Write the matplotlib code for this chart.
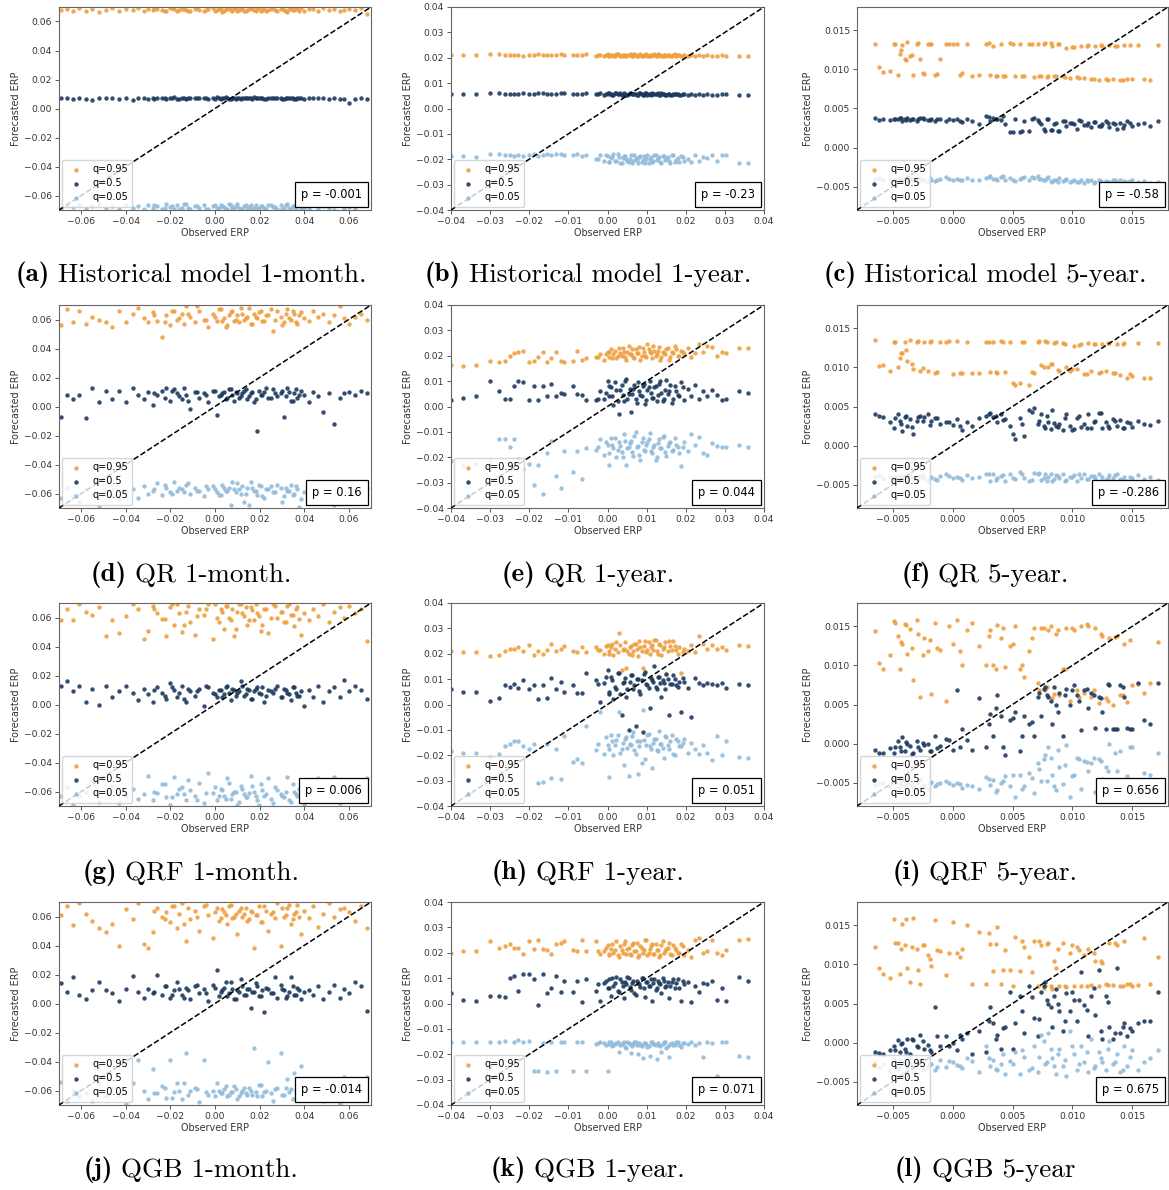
import numpy as np
import matplotlib
matplotlib.use("Agg")
import matplotlib.pyplot as plt
from matplotlib.ticker import MultipleLocator
from matplotlib.offsetbox import AnchoredText

# observed ERP, shared by every model of the same horizon
obs_1m = [-0.0690, -0.0665, -0.0635, -0.0610, -0.0580, -0.0550, -0.0520, -0.0490,
          -0.0460, -0.0430, -0.0400, -0.0370, -0.0345, -0.0320, -0.0300, -0.0280,
          -0.0260, -0.0240, -0.0220, -0.0200, -0.0185, -0.0170, -0.0150, -0.0130,
          -0.0110, -0.0090, -0.0070, -0.0050, -0.0030, -0.0010, 0.0010, 0.0025,
          0.0040, 0.0055, 0.0070, 0.0085, 0.0100, 0.0115, 0.0130, 0.0145,
          0.0160, 0.0175, 0.0190, 0.0205, 0.0220, 0.0240, 0.0260, 0.0280,
          0.0295, 0.0310, 0.0325, 0.0340, 0.0355, 0.0370, 0.0385, 0.0400,
          0.0420, 0.0440, 0.0460, 0.0485, 0.0510, 0.0535, 0.0560, 0.0580,
          0.0600, 0.0630, 0.0655, 0.0680,
          -0.0275, -0.0225, -0.0195, -0.0160, -0.0140, -0.0120, -0.0080, -0.0040,
          0.0000, 0.0018, 0.0032, 0.0048, 0.0062, 0.0078, 0.0092, 0.0108,
          0.0122, 0.0138, 0.0152, 0.0168, 0.0182, 0.0198, 0.0212, 0.0230,
          0.0250, 0.0270, 0.0302, 0.0318, 0.0332, 0.0348, 0.0362, 0.0378]

obs_1y = [-0.0400, -0.0370, -0.0335, -0.0300, -0.0278, -0.0262, -0.0250, -0.0240,
          -0.0228, -0.0215, -0.0200, -0.0188, -0.0178, -0.0165, -0.0155, -0.0145,
          -0.0132, -0.0120, -0.0110, -0.0088, -0.0078, -0.0065, -0.0055, -0.0030,
          -0.0020, -0.0010, 0.0000, 0.0005, 0.0010, 0.0015, 0.0022, 0.0030,
          0.0036, 0.0042, 0.0048, 0.0054, 0.0060, 0.0066, 0.0072, 0.0078,
          0.0084, 0.0090, 0.0096, 0.0102, 0.0108, 0.0114, 0.0120, 0.0126,
          0.0132, 0.0138, 0.0144, 0.0150, 0.0157, 0.0164, 0.0172, 0.0180,
          0.0188, 0.0196, 0.0205, 0.0214, 0.0224, 0.0234, 0.0243, 0.0255,
          0.0268, 0.0280, 0.0292, 0.0303, 0.0335, 0.0358,
          -0.0025, -0.0005, 0.0003, 0.0012, 0.0019, 0.0026, 0.0033, 0.0039,
          0.0045, 0.0051, 0.0057, 0.0063, 0.0069, 0.0075, 0.0081, 0.0087,
          0.0093, 0.0099, 0.0105, 0.0111, 0.0117, 0.0123, 0.0129, 0.0135,
          0.0141, 0.0147, 0.0154, 0.0161, 0.0168, 0.0176, 0.0184, 0.0192]

obs_5y = [-0.0065, -0.0062, -0.0058, -0.0052, -0.0049, -0.0046, -0.0044, -0.0042,
          -0.0040, -0.0038, -0.0036, -0.0033, -0.0030, -0.0027, -0.0024, -0.0021,
          -0.0018, -0.0015, -0.0011, -0.0006, 0.0000, 0.0004, 0.0008, 0.0012,
          0.0016, 0.0022, 0.0028, 0.0031, 0.0034, 0.0037, 0.0040, 0.0044,
          0.0048, 0.0052, 0.0056, 0.0060, 0.0064, 0.0068, 0.0071, 0.0074,
          0.0077, 0.0080, 0.0083, 0.0086, 0.0089, 0.0092, 0.0095, 0.0098,
          0.0101, 0.0104, 0.0107, 0.0110, 0.0113, 0.0116, 0.0119, 0.0122,
          0.0125, 0.0128, 0.0131, 0.0134, 0.0137, 0.0140, 0.0143, 0.0146,
          0.0150, 0.0155, 0.0160, 0.0165, 0.0172,
          -0.0048, -0.0043, -0.0039, -0.0034, -0.0029, -0.0025, -0.0019, -0.0013,
          -0.0003, 0.0006, 0.0030, 0.0036, 0.0042, 0.0050, 0.0058, 0.0066,
          0.0072, 0.0076, 0.0079, 0.0082, 0.0085, 0.0088, 0.0094, 0.0100,
          0.0106, 0.0112, 0.0118, 0.0124, 0.0130, 0.0136, 0.0142, 0.0148]

# ---------------- 1-month forecasts ----------------
hist_1m_q95 = [0.0680, 0.0685, 0.0670, 0.0690, 0.0675, 0.0688, 0.0668, 0.0682,
               0.0690, 0.0672, 0.0685, 0.0678, 0.0692, 0.0670, 0.0684, 0.0676,
               0.0688, 0.0680, 0.0669, 0.0691, 0.0683, 0.0674, 0.0687, 0.0679,
               0.0670, 0.0689, 0.0681, 0.0673, 0.0686, 0.0692, 0.0677, 0.0684,
               0.0671, 0.0688, 0.0680, 0.0693, 0.0675, 0.0685, 0.0670, 0.0682,
               0.0690, 0.0676, 0.0684, 0.0669, 0.0687, 0.0679, 0.0691, 0.0673,
               0.0686, 0.0680, 0.0668, 0.0689, 0.0677, 0.0684, 0.0692, 0.0671,
               0.0683, 0.0688, 0.0674, 0.0690, 0.0679, 0.0686, 0.0669, 0.0681,
               0.0688, 0.0676, 0.0690, 0.0650,
               0.0684, 0.0672, 0.0690, 0.0678, 0.0686, 0.0670, 0.0692, 0.0681,
               0.0675, 0.0689, 0.0668, 0.0684, 0.0691, 0.0673, 0.0686, 0.0679,
               0.0690, 0.0670, 0.0683, 0.0688, 0.0674, 0.0692, 0.0680, 0.0669,
               0.0687, 0.0677, 0.0691, 0.0672, 0.0685, 0.0679, 0.0690, 0.0675]
hist_1m_q50 = [0.0075, 0.0070, 0.0065, 0.0072, 0.0068, 0.0060, 0.0074, 0.0069,
               0.0071, 0.0066, 0.0073, 0.0058, 0.0070, 0.0075, 0.0067, 0.0072,
               0.0069, 0.0074, 0.0064, 0.0071, 0.0076, 0.0068, 0.0073, 0.0066,
               0.0070, 0.0075, 0.0069, 0.0072, 0.0065, 0.0071, 0.0077, 0.0068,
               0.0073, 0.0070, 0.0066, 0.0074, 0.0071, 0.0068, 0.0075, 0.0072,
               0.0069, 0.0076, 0.0070, 0.0073, 0.0067, 0.0072, 0.0075, 0.0069,
               0.0071, 0.0066, 0.0074, 0.0070, 0.0068, 0.0073, 0.0071, 0.0067,
               0.0072, 0.0069, 0.0070, 0.0074, 0.0066, 0.0071, 0.0068, 0.0065,
               0.0040, 0.0068, 0.0075, 0.0066,
               0.0068, 0.0073, 0.0070, 0.0066, 0.0074, 0.0071, 0.0069, 0.0075,
               0.0067, 0.0072, 0.0070, 0.0076, 0.0068, 0.0073, 0.0065, 0.0071,
               0.0074, 0.0069, 0.0072, 0.0067, 0.0075, 0.0070, 0.0073, 0.0066,
               0.0071, 0.0074, 0.0068, 0.0072, 0.0070, 0.0075, 0.0067, 0.0073]
hist_1m_q05 = [-0.0690, -0.0665, -0.0680, -0.0668, -0.0695, -0.0670, -0.0662, -0.0688,
               -0.0675, -0.0692, -0.0666, -0.0683, -0.0670, -0.0695, -0.0664, -0.0686,
               -0.0672, -0.0690, -0.0660, -0.0681, -0.0694, -0.0667, -0.0685, -0.0662,
               -0.0691, -0.0670, -0.0684, -0.0663, -0.0696, -0.0675, -0.0688, -0.0665,
               -0.0680, -0.0693, -0.0668, -0.0686, -0.0661, -0.0690, -0.0674, -0.0695,
               -0.0666, -0.0684, -0.0692, -0.0670, -0.0688, -0.0663, -0.0680, -0.0694,
               -0.0668, -0.0687, -0.0660, -0.0691, -0.0675, -0.0658, -0.0690, -0.0684,
               -0.0695, -0.0668, -0.0690, -0.0672, -0.0693, -0.0698, -0.0665, -0.0690,
               -0.0680, -0.0692, -0.0666, -0.0648,
               -0.0665, -0.0688, -0.0672, -0.0694, -0.0660, -0.0683, -0.0670, -0.0692,
               -0.0666, -0.0686, -0.0675, -0.0696, -0.0662, -0.0689, -0.0671, -0.0684,
               -0.0694, -0.0667, -0.0680, -0.0690, -0.0663, -0.0686, -0.0674, -0.0695,
               -0.0668, -0.0682, -0.0692, -0.0665, -0.0688, -0.0672, -0.0690, -0.0660]

qr_1m_q95 = [0.056, 0.067, 0.058, 0.066, 0.057, 0.062, 0.060, 0.058,
             0.055, 0.066, 0.058, 0.064, 0.068, 0.061, 0.058, 0.065,
             0.059, 0.048, 0.063, 0.056, 0.066, 0.060, 0.064, 0.069,
             0.062, 0.058, 0.066, 0.060, 0.055, 0.064, 0.059, 0.067,
             0.061, 0.056, 0.065, 0.059, 0.063, 0.068, 0.060, 0.062,
             0.057, 0.064, 0.061, 0.066, 0.059, 0.063, 0.052, 0.066,
             0.062, 0.058, 0.067, 0.060, 0.064, 0.057, 0.065, 0.061,
             0.059, 0.066, 0.062, 0.064, 0.058, 0.063, 0.069, 0.061,
             0.057, 0.062, 0.064, 0.060,
             0.063, 0.058, 0.066, 0.061, 0.057, 0.064, 0.069, 0.060,
             0.062, 0.067, 0.059, 0.055, 0.063, 0.066, 0.060, 0.058,
             0.064, 0.061, 0.068, 0.057, 0.062, 0.065, 0.059, 0.063,
             0.067, 0.060, 0.056, 0.064, 0.061, 0.066, 0.058, 0.063]
qr_1m_q50 = [-0.007, 0.008, 0.005, 0.008, -0.008, 0.013, 0.003, 0.011,
             0.005, 0.011, 0.003, 0.013, 0.008, 0.005, 0.010, 0.001,
             0.008, 0.011, 0.013, 0.004, 0.012, 0.009, 0.005, 0.008,
             -0.002, 0.010, 0.006, 0.009, 0.003, 0.011, -0.006, 0.008,
             0.010, 0.006, 0.012, 0.004, 0.009, 0.007, 0.011, 0.005,
             0.009, 0.003, -0.017, 0.008, 0.010, 0.006, 0.012, 0.007,
             0.009, -0.007, 0.013, 0.004, 0.009, 0.006, 0.011, 0.008,
             0.003, 0.010, 0.007, -0.004, 0.009, -0.012, 0.006, 0.009,
             0.010, 0.008, 0.011, 0.009,
             0.009, 0.006, 0.011, 0.007, 0.013, 0.004, 0.010, 0.008,
             0.011, 0.007, 0.009, 0.005, 0.012, 0.008, 0.010, 0.006,
             0.009, 0.012, 0.007, 0.010, 0.005, 0.011, 0.008, 0.013,
             0.006, 0.009, 0.011, 0.007, 0.010, 0.004, 0.012, 0.008]
qr_1m_q05 = [-0.063, -0.056, -0.062, -0.066, -0.057, -0.061, -0.069, -0.058,
             -0.062, -0.064, -0.059, -0.057, -0.063, -0.055, -0.060, -0.058,
             -0.053, -0.061, -0.056, -0.059, -0.052, -0.058, -0.057, -0.054,
             -0.060, -0.056, -0.058, -0.062, -0.057, -0.055, -0.059, -0.061,
             -0.056, -0.058, -0.068, -0.057, -0.053, -0.060, -0.066, -0.056,
             -0.052, -0.058, -0.061, -0.055, -0.063, -0.057, -0.059, -0.054,
             -0.056, -0.062, -0.058, -0.054, -0.060, -0.057, -0.064, -0.059,
             -0.066, -0.056, -0.061, -0.052, -0.058, -0.068, -0.062, -0.057,
             -0.060, -0.066, -0.058, -0.056,
             -0.057, -0.054, -0.060, -0.056, -0.059, -0.053, -0.058, -0.055,
             -0.057, -0.061, -0.054, -0.058, -0.056, -0.052, -0.059, -0.057,
             -0.055, -0.060, -0.068, -0.056, -0.058, -0.054, -0.062, -0.057,
             -0.055, -0.059, -0.066, -0.056, -0.058, -0.061, -0.055, -0.069]

qrf_1m_q95 = [0.058, 0.066, 0.058, 0.069, 0.064, 0.062, 0.067, 0.047,
              0.058, 0.049, 0.061, 0.069, 0.066, 0.045, 0.051, 0.068,
              0.063, 0.059, 0.047, 0.067, 0.055, 0.069, 0.050, 0.064,
              0.057, 0.048, 0.066, 0.062, 0.069, 0.045, 0.060, 0.066,
              0.052, 0.068, 0.058, 0.047, 0.064, 0.069, 0.061, 0.055,
              0.067, 0.058, 0.063, 0.051, 0.066, 0.049, 0.069, 0.060,
              0.064, 0.057, 0.068, 0.062, 0.054, 0.067, 0.048, 0.063,
              0.058, 0.066, 0.061, 0.069, 0.057, 0.064, 0.067, 0.060,
              0.068, 0.063, 0.066, 0.044,
              0.066, 0.059, 0.069, 0.063, 0.055, 0.068, 0.061, 0.066,
              0.069, 0.057, 0.064, 0.068, 0.060, 0.066, 0.052, 0.069,
              0.063, 0.067, 0.058, 0.065, 0.069, 0.061, 0.055, 0.066,
              0.060, 0.068, 0.064, 0.057, 0.069, 0.062, 0.066, 0.059]
qrf_1m_q50 = [0.013, 0.016, 0.009, 0.013, 0.002, 0.011, 0.000, 0.013,
              0.005, 0.009, 0.013, 0.008, 0.003, 0.011, 0.007, 0.002,
              0.012, 0.008, 0.004, 0.015, 0.010, 0.005, 0.013, 0.002,
              0.009, 0.006, 0.011, -0.001, 0.012, 0.008, 0.005, 0.010,
              0.007, 0.013, 0.003, 0.010, 0.008, 0.016, 0.006, 0.011,
              0.004, 0.009, 0.012, 0.007, 0.002, 0.010, 0.008, 0.013,
              0.005, 0.011, 0.008, 0.003, 0.012, 0.006, 0.009, -0.001,
              0.010, 0.005, 0.013, 0.002, 0.009, 0.012, 0.005, 0.017,
              0.009, 0.013, 0.010, 0.004,
              0.010, 0.006, 0.012, 0.008, 0.004, 0.011, 0.009, 0.013,
              0.007, 0.010, 0.005, 0.012, 0.008, 0.011, 0.006, 0.009,
              0.013, 0.007, 0.010, 0.004, 0.011, 0.008, 0.012, 0.006,
              0.009, 0.011, 0.005, 0.010, 0.007, 0.012, 0.008, 0.006]
qrf_1m_q05 = [-0.063, -0.057, -0.069, -0.063, -0.060, -0.052, -0.067, -0.061,
              -0.056, -0.068, -0.063, -0.058, -0.065, -0.062, -0.049, -0.066,
              -0.061, -0.055, -0.064, -0.069, -0.050, -0.062, -0.057, -0.066,
              -0.059, -0.063, -0.054, -0.068, -0.047, -0.061, -0.066, -0.058,
              -0.063, -0.051, -0.065, -0.060, -0.069, -0.056, -0.062, -0.064,
              -0.049, -0.060, -0.066, -0.055, -0.063, -0.051, -0.068, -0.059,
              -0.062, -0.064, -0.050, -0.067, -0.060, -0.063, -0.055, -0.069,
              -0.057, -0.062, -0.051, -0.066, -0.058, -0.050, -0.068, -0.061,
              -0.055, -0.065, -0.060, -0.051,
              -0.060, -0.055, -0.064, -0.058, -0.062, -0.052, -0.066, -0.061,
              -0.057, -0.063, -0.059, -0.065, -0.054, -0.062, -0.060, -0.067,
              -0.058, -0.064, -0.061, -0.056, -0.063, -0.069, -0.059, -0.062,
              -0.065, -0.057, -0.063, -0.060, -0.066, -0.055, -0.062, -0.058]

qgb_1m_q95 = [0.061, 0.067, 0.054, 0.069, 0.062, 0.057, 0.052, 0.049,
              0.055, 0.040, 0.065, 0.058, 0.069, 0.041, 0.038, 0.049,
              0.066, 0.060, 0.063, 0.056, 0.067, 0.052, 0.069, 0.043,
              0.058, 0.064, 0.050, 0.067, 0.061, 0.045, 0.066, 0.059,
              0.063, 0.055, 0.068, 0.060, 0.048, 0.066, 0.062, 0.057,
              0.064, 0.038, 0.061, 0.056, 0.067, 0.050, 0.063, 0.069,
              0.040, 0.060, 0.066, 0.055, 0.062, 0.068, 0.048, 0.064,
              0.059, 0.067, 0.053, 0.062, 0.069, 0.060, 0.065, 0.066,
              0.063, 0.057, 0.067, 0.052,
              0.064, 0.058, 0.067, 0.062, 0.055, 0.066, 0.060, 0.068,
              0.063, 0.057, 0.065, 0.061, 0.067, 0.059, 0.062, 0.064,
              0.060, 0.066, 0.058, 0.063, 0.061, 0.067, 0.056, 0.064,
              0.062, 0.059, 0.066, 0.061, 0.068, 0.058, 0.063, 0.060]
qgb_1m_q50 = [0.014, 0.008, 0.018, 0.006, 0.003, 0.009, 0.015, 0.009,
              0.007, 0.002, 0.010, 0.019, 0.008, 0.004, 0.010, 0.007,
              0.020, 0.006, 0.012, 0.004, 0.009, 0.015, 0.006, 0.011,
              0.003, 0.012, 0.007, 0.010, 0.002, 0.013, 0.023, 0.008,
              0.011, 0.005, 0.015, 0.003, 0.009, 0.017, 0.006, 0.010,
              -0.003, 0.008, 0.012, 0.005, -0.006, 0.010, 0.007, 0.004,
              0.013, 0.009, 0.005, 0.018, 0.006, 0.011, 0.003, 0.008,
              0.009, 0.006, 0.012, 0.003, 0.008, 0.013, 0.004, 0.010,
              0.007, 0.015, 0.012, -0.005,
              0.008, 0.012, 0.006, 0.010, 0.004, 0.009, 0.013, 0.007,
              0.011, 0.005, 0.009, 0.015, 0.007, 0.010, 0.003, 0.008,
              0.012, 0.006, 0.010, 0.008, 0.014, 0.005, 0.009, 0.011,
              0.007, 0.018, 0.010, 0.004, 0.008, 0.012, 0.006, 0.009]
qgb_1m_q05 = [-0.054, -0.067, -0.060, -0.064, -0.062, -0.067, -0.055, -0.064,
              -0.058, -0.063, -0.069, -0.055, -0.039, -0.060, -0.066, -0.045,
              -0.062, -0.057, -0.065, -0.039, -0.061, -0.055, -0.066, -0.034,
              -0.060, -0.058, -0.068, -0.039, -0.063, -0.060, -0.055, -0.062,
              -0.059, -0.064, -0.061, -0.057, -0.066, -0.062, -0.058, -0.063,
              -0.060, -0.031, -0.064, -0.056, -0.061, -0.040, -0.067, -0.058,
              -0.034, -0.063, -0.052, -0.059, -0.048, -0.062, -0.043, -0.066,
              -0.058, -0.063, -0.060, -0.067, -0.055, -0.062, -0.069, -0.051,
              -0.066, -0.061, -0.058, -0.051,
              -0.062, -0.058, -0.065, -0.060, -0.055, -0.063, -0.059, -0.061,
              -0.064, -0.060, -0.062, -0.057, -0.063, -0.061, -0.059, -0.064,
              -0.060, -0.062, -0.058, -0.063, -0.061, -0.056, -0.064, -0.060,
              -0.062, -0.059, -0.063, -0.058, -0.061, -0.066, -0.060, -0.063]

# ---------------- 1-year forecasts ----------------
hist_1y_q95 = [0.0210, 0.0210, 0.0210, 0.0213, 0.0213, 0.0210, 0.0212, 0.0209,
               0.0210, 0.0208, 0.0212, 0.0211, 0.0213, 0.0210, 0.0212, 0.0209,
               0.0211, 0.0213, 0.0210, 0.0209, 0.0211, 0.0212, 0.0213, 0.0207,
               0.0212, 0.0205, 0.0213, 0.0208, 0.0211, 0.0206, 0.0214, 0.0209,
               0.0207, 0.0212, 0.0205, 0.0210, 0.0214, 0.0207, 0.0211, 0.0205,
               0.0213, 0.0208, 0.0210, 0.0206, 0.0212, 0.0209, 0.0214, 0.0207,
               0.0210, 0.0205, 0.0212, 0.0208, 0.0211, 0.0206, 0.0213, 0.0209,
               0.0207, 0.0211, 0.0205, 0.0210, 0.0208, 0.0212, 0.0206, 0.0210,
               0.0207, 0.0205, 0.0209, 0.0206, 0.0205, 0.0206,
               0.0210, 0.0212, 0.0207, 0.0211, 0.0205, 0.0213, 0.0208, 0.0210,
               0.0206, 0.0212, 0.0209, 0.0205, 0.0213, 0.0207, 0.0211, 0.0206,
               0.0210, 0.0214, 0.0208, 0.0205, 0.0211, 0.0207, 0.0213, 0.0209,
               0.0206, 0.0210, 0.0212, 0.0207, 0.0211, 0.0205, 0.0209, 0.0208]
hist_1y_q50 = [0.0058, 0.0058, 0.0058, 0.0062, 0.0060, 0.0058, 0.0059, 0.0057,
               0.0058, 0.0061, 0.0059, 0.0058, 0.0060, 0.0062, 0.0059, 0.0057,
               0.0058, 0.0060, 0.0061, 0.0058, 0.0059, 0.0057, 0.0061, 0.0058,
               0.0060, 0.0053, 0.0062, 0.0056, 0.0059, 0.0054, 0.0063, 0.0057,
               0.0055, 0.0061, 0.0054, 0.0059, 0.0062, 0.0056, 0.0058, 0.0053,
               0.0061, 0.0055, 0.0060, 0.0054, 0.0058, 0.0062, 0.0056, 0.0059,
               0.0054, 0.0060, 0.0057, 0.0055, 0.0059, 0.0053, 0.0058, 0.0056,
               0.0054, 0.0058, 0.0055, 0.0057, 0.0053, 0.0056, 0.0055, 0.0057,
               0.0055, 0.0054, 0.0056, 0.0056, 0.0054, 0.0055,
               0.0059, 0.0056, 0.0061, 0.0054, 0.0060, 0.0057, 0.0062, 0.0055,
               0.0059, 0.0053, 0.0061, 0.0056, 0.0058, 0.0054, 0.0060, 0.0057,
               0.0055, 0.0061, 0.0058, 0.0053, 0.0059, 0.0056, 0.0060, 0.0054,
               0.0057, 0.0055, 0.0059, 0.0053, 0.0058, 0.0056, 0.0054, 0.0057]
hist_1y_q05 = [-0.0188, -0.0188, -0.0190, -0.0180, -0.0180, -0.0185, -0.0183, -0.0186,
               -0.0182, -0.0189, -0.0184, -0.0180, -0.0186, -0.0182, -0.0179, -0.0184,
               -0.0181, -0.0178, -0.0182, -0.0185, -0.0180, -0.0186, -0.0183, -0.0198,
               -0.0185, -0.0205, -0.0188, -0.0212, -0.0195, -0.0180, -0.0208, -0.0190,
               -0.0215, -0.0186, -0.0200, -0.0210, -0.0183, -0.0205, -0.0195, -0.0214,
               -0.0188, -0.0202, -0.0216, -0.0185, -0.0198, -0.0210, -0.0182, -0.0204,
               -0.0193, -0.0214, -0.0186, -0.0200, -0.0208, -0.0184, -0.0212, -0.0196,
               -0.0188, -0.0205, -0.0198, -0.0212, -0.0184, -0.0206, -0.0190, -0.0196,
               -0.0183, -0.0205, -0.0185, -0.0182, -0.0215, -0.0215,
               -0.0200, -0.0185, -0.0210, -0.0192, -0.0205, -0.0181, -0.0214, -0.0196,
               -0.0188, -0.0208, -0.0199, -0.0215, -0.0183, -0.0203, -0.0192, -0.0211,
               -0.0186, -0.0200, -0.0214, -0.0190, -0.0206, -0.0183, -0.0197, -0.0212,
               -0.0188, -0.0204, -0.0193, -0.0215, -0.0185, -0.0201, -0.0209, -0.0190]

qr_1y_q95 = [0.0165, 0.0160, 0.0165, 0.0180, 0.0175, 0.0180, 0.0200, 0.0210,
             0.0215, 0.0220, 0.0175, 0.0180, 0.0195, 0.0215, 0.0175, 0.0190,
             0.0215, 0.0180, 0.0175, 0.0180, 0.0220, 0.0185, 0.0190, 0.0195,
             0.0205, 0.0185, 0.0215, 0.0195, 0.0225, 0.0205, 0.0190, 0.0230,
             0.0200, 0.0215, 0.0185, 0.0240, 0.0205, 0.0195, 0.0225, 0.0210,
             0.0185, 0.0230, 0.0200, 0.0245, 0.0215, 0.0190, 0.0220, 0.0205,
             0.0235, 0.0195, 0.0210, 0.0225, 0.0185, 0.0215, 0.0240, 0.0200,
             0.0220, 0.0205, 0.0230, 0.0195, 0.0210, 0.0245, 0.0215, 0.0240,
             0.0235, 0.0200, 0.0215, 0.0210, 0.0230, 0.0232,
             0.0195, 0.0205, 0.0215, 0.0190, 0.0220, 0.0200, 0.0210, 0.0230,
             0.0195, 0.0215, 0.0205, 0.0225, 0.0190, 0.0210, 0.0235, 0.0200,
             0.0215, 0.0195, 0.0225, 0.0210, 0.0240, 0.0200, 0.0220, 0.0185,
             0.0215, 0.0205, 0.0230, 0.0195, 0.0210, 0.0225, 0.0200, 0.0215]
qr_1y_q50 = [0.0025, 0.0035, 0.0040, 0.0100, 0.0060, 0.0030, 0.0030, 0.0080,
             0.0100, 0.0095, 0.0025, 0.0080, 0.0025, 0.0080, 0.0040, 0.0090,
             0.0040, 0.0055, 0.0050, 0.0080, 0.0050, 0.0045, 0.0025, 0.0025,
             0.0060, 0.0030, 0.0100, 0.0040, 0.0075, 0.0005, 0.0065, -0.0030,
             0.0085, 0.0020, 0.0110, 0.0050, -0.0020, 0.0070, 0.0030, 0.0095,
             0.0045, 0.0080, 0.0010, 0.0065, 0.0100, 0.0035, 0.0075, 0.0020,
             0.0090, 0.0055, 0.0030, 0.0105, 0.0060, 0.0015, 0.0080, 0.0045,
             0.0095, 0.0025, 0.0070, 0.0040, 0.0085, 0.0030, 0.0060, 0.0040,
             0.0065, 0.0045, 0.0025, 0.0030, 0.0060, 0.0055,
             0.0030, 0.0055, 0.0080, 0.0040, 0.0095, 0.0020, 0.0065, 0.0045,
             0.0100, 0.0030, 0.0070, 0.0050, 0.0085, 0.0015, 0.0060, 0.0040,
             0.0090, 0.0025, 0.0075, 0.0055, 0.0035, 0.0080, 0.0045, 0.0100,
             0.0020, 0.0065, 0.0050, 0.0085, 0.0030, 0.0060, 0.0040, 0.0075]
qr_1y_q05 = [-0.0215, -0.0235, -0.0225, -0.0215, -0.0130, -0.0130, -0.0160, -0.0130,
             -0.0205, -0.0245, -0.0225, -0.0310, -0.0230, -0.0345, -0.0185, -0.0135,
             -0.0275, -0.0320, -0.0175, -0.0260, -0.0175, -0.0285, -0.0165, -0.0170,
             -0.0130, -0.0190, -0.0150, -0.0230, -0.0125, -0.0165, -0.0200, -0.0140,
             -0.0180, -0.0110, -0.0230, -0.0160, -0.0135, -0.0195, -0.0100, -0.0155,
             -0.0210, -0.0125, -0.0175, -0.0140, -0.0105, -0.0185, -0.0150, -0.0200,
             -0.0130, -0.0165, -0.0115, -0.0195, -0.0145, -0.0175, -0.0125, -0.0160,
             -0.0235, -0.0140, -0.0175, -0.0110, -0.0150, -0.0120, -0.0185, -0.0190,
             -0.0145, -0.0155, -0.0160, -0.0160, -0.0150, -0.0160,
             -0.0160, -0.0140, -0.0185, -0.0150, -0.0125, -0.0170, -0.0155, -0.0200,
             -0.0135, -0.0165, -0.0145, -0.0180, -0.0115, -0.0160, -0.0190, -0.0140,
             -0.0170, -0.0150, -0.0130, -0.0175, -0.0160, -0.0210, -0.0145, -0.0165,
             -0.0120, -0.0180, -0.0155, -0.0140, -0.0170, -0.0150, -0.0185, -0.0160]

qrf_1y_q95 = [0.0210, 0.0205, 0.0205, 0.0190, 0.0195, 0.0210, 0.0220, 0.0220,
              0.0225, 0.0210, 0.0235, 0.0195, 0.0210, 0.0200, 0.0215, 0.0240,
              0.0210, 0.0220, 0.0230, 0.0210, 0.0205, 0.0225, 0.0205, 0.0225,
              0.0215, 0.0200, 0.0235, 0.0210, 0.0225, 0.0195, 0.0245, 0.0280,
              0.0135, 0.0220, 0.0145, 0.0200, 0.0230, 0.0210, 0.0240, 0.0190,
              0.0225, 0.0145, 0.0250, 0.0215, 0.0200, 0.0235, 0.0255, 0.0210,
              0.0240, 0.0195, 0.0225, 0.0120, 0.0250, 0.0215, 0.0230, 0.0200,
              0.0125, 0.0220, 0.0210, 0.0235, 0.0205, 0.0270, 0.0240, 0.0220,
              0.0235, 0.0220, 0.0225, 0.0215, 0.0235, 0.0230,
              0.0215, 0.0230, 0.0200, 0.0240, 0.0220, 0.0205, 0.0235, 0.0215,
              0.0245, 0.0210, 0.0225, 0.0195, 0.0240, 0.0220, 0.0250, 0.0210,
              0.0230, 0.0205, 0.0245, 0.0225, 0.0215, 0.0255, 0.0200, 0.0235,
              0.0220, 0.0245, 0.0210, 0.0230, 0.0250, 0.0215, 0.0225, 0.0205]
qrf_1y_q50 = [0.0060, 0.0050, 0.0050, 0.0015, 0.0025, 0.0075, 0.0070, 0.0080,
              0.0065, 0.0095, 0.0060, 0.0075, 0.0020, 0.0075, 0.0025, 0.0105,
              0.0060, 0.0090, 0.0050, 0.0075, 0.0045, 0.0045, 0.0125, 0.0095,
              0.0010, 0.0085, 0.0135, 0.0040, 0.0110, 0.0020, 0.0060, 0.0125,
              -0.0040, 0.0090, 0.0030, -0.0100, 0.0115, 0.0060, -0.0085, 0.0100,
              0.0040, -0.0110, 0.0130, 0.0075, -0.0015, 0.0095, 0.0150, 0.0060,
              0.0110, 0.0030, 0.0085, 0.0120, -0.0040, 0.0080, 0.0100, 0.0070,
              -0.0030, 0.0090, 0.0065, -0.0050, 0.0105, 0.0085, 0.0075, 0.0085,
              0.0080, 0.0075, 0.0085, 0.0065, 0.0080, 0.0075,
              0.0080, 0.0110, 0.0050, 0.0095, 0.0070, 0.0125, 0.0040, 0.0085,
              0.0105, 0.0060, 0.0090, 0.0115, 0.0075, 0.0100, 0.0055, 0.0095,
              0.0120, 0.0080, 0.0065, 0.0105, 0.0090, 0.0070, 0.0110, 0.0085,
              0.0095, 0.0060, 0.0100, 0.0080, 0.0115, 0.0075, 0.0090, 0.0105]
qrf_1y_q05 = [-0.0185, -0.0190, -0.0190, -0.0205, -0.0195, -0.0165, -0.0155, -0.0145,
              -0.0145, -0.0165, -0.0175, -0.0155, -0.0310, -0.0305, -0.0155, -0.0290,
              -0.0175, -0.0295, -0.0125, -0.0225, -0.0215, -0.0230, -0.0085, -0.0180,
              -0.0030, -0.0195, -0.0160, -0.0285, -0.0120, -0.0200, -0.0140, -0.0030,
              -0.0175, -0.0240, -0.0130, -0.0280, -0.0160, -0.0110, -0.0195, -0.0275,
              -0.0145, -0.0020, -0.0215, -0.0120, -0.0165, -0.0250, -0.0135, -0.0180,
              -0.0105, -0.0155, -0.0210, -0.0130, -0.0175, -0.0120, -0.0200, -0.0145,
              -0.0165, -0.0135, -0.0190, -0.0150, -0.0175, -0.0195, -0.0160, -0.0190,
              -0.0220, -0.0125, -0.0200, -0.0145, -0.0205, -0.0210,
              -0.0155, -0.0130, -0.0175, -0.0145, -0.0160, -0.0120, -0.0190, -0.0150,
              -0.0135, -0.0170, -0.0155, -0.0125, -0.0180, -0.0145, -0.0165, -0.0230,
              -0.0140, -0.0160, -0.0115, -0.0175, -0.0150, -0.0135, -0.0185, -0.0155,
              -0.0170, -0.0125, -0.0160, -0.0145, -0.0195, -0.0135, -0.0165, -0.0150]

qgb_1y_q95 = [0.0200, 0.0205, 0.0205, 0.0245, 0.0220, 0.0225, 0.0235, 0.0220,
              0.0220, 0.0195, 0.0245, 0.0215, 0.0250, 0.0215, 0.0210, 0.0195,
              0.0235, 0.0240, 0.0245, 0.0210, 0.0205, 0.0250, 0.0205, 0.0245,
              0.0195, 0.0205, 0.0230, 0.0190, 0.0215, 0.0200, 0.0245, 0.0185,
              0.0210, 0.0235, 0.0195, 0.0220, 0.0190, 0.0240, 0.0205, 0.0185,
              0.0225, 0.0200, 0.0250, 0.0190, 0.0215, 0.0235, 0.0195, 0.0210,
              0.0185, 0.0230, 0.0200, 0.0215, 0.0240, 0.0190, 0.0220, 0.0200,
              0.0235, 0.0190, 0.0210, 0.0185, 0.0250, 0.0260, 0.0200, 0.0205,
              0.0250, 0.0200, 0.0190, 0.0210, 0.0250, 0.0255,
              0.0205, 0.0220, 0.0195, 0.0235, 0.0210, 0.0190, 0.0225, 0.0200,
              0.0245, 0.0215, 0.0195, 0.0230, 0.0205, 0.0240, 0.0190, 0.0220,
              0.0210, 0.0250, 0.0200, 0.0225, 0.0195, 0.0235, 0.0210, 0.0190,
              0.0245, 0.0205, 0.0220, 0.0195, 0.0230, 0.0210, 0.0200, 0.0225]
qgb_1y_q50 = [0.0040, 0.0015, 0.0010, 0.0030, 0.0030, 0.0025, 0.0100, 0.0110,
              0.0050, 0.0115, 0.0115, 0.0095, -0.0005, 0.0115, 0.0040, 0.0060,
              0.0110, 0.0045, 0.0090, 0.0045, 0.0090, 0.0005, 0.0095, 0.0050,
              0.0010, 0.0080, 0.0060, 0.0095, 0.0030, 0.0070, 0.0105, 0.0045,
              0.0085, 0.0020, 0.0075, 0.0100, 0.0055, 0.0090, 0.0035, 0.0080,
              0.0065, 0.0100, 0.0025, 0.0085, 0.0070, 0.0010, 0.0095, 0.0060,
              0.0080, 0.0040, 0.0090, 0.0070, 0.0020, 0.0085, 0.0060, 0.0095,
              0.0010, 0.0075, 0.0085, 0.0005, 0.0070, 0.0045, 0.0080, 0.0075,
              0.0090, 0.0015, 0.0060, 0.0010, 0.0105, 0.0090,
              0.0075, 0.0090, 0.0060, 0.0100, 0.0080, 0.0050, 0.0095, 0.0070,
              0.0085, 0.0105, 0.0065, 0.0080, 0.0040, 0.0090, 0.0075, 0.0100,
              0.0060, 0.0085, 0.0070, 0.0095, 0.0080, 0.0055, 0.0090, 0.0075,
              0.0100, 0.0065, 0.0085, 0.0070, 0.0095, 0.0080, 0.0060, 0.0090]
qgb_1y_q05 = [-0.0150, -0.0150, -0.0150, -0.0150, -0.0153, -0.0148, -0.0265, -0.0150,
              -0.0145, -0.0150, -0.0148, -0.0265, -0.0265, -0.0155, -0.0270, -0.0150,
              -0.0265, -0.0150, -0.0150, -0.0265, -0.0150, -0.0150, -0.0265, -0.0160,
              -0.0150, -0.0155, -0.0265, -0.0160, -0.0150, -0.0165, -0.0155, -0.0190,
              -0.0160, -0.0150, -0.0175, -0.0155, -0.0195, -0.0160, -0.0150, -0.0200,
              -0.0165, -0.0215, -0.0155, -0.0170, -0.0205, -0.0150, -0.0160, -0.0220,
              -0.0165, -0.0190, -0.0150, -0.0175, -0.0210, -0.0155, -0.0165, -0.0150,
              -0.0170, -0.0155, -0.0160, -0.0150, -0.0165, -0.0155, -0.0210, -0.0150,
              -0.0155, -0.0285, -0.0150, -0.0150, -0.0205, -0.0210,
              -0.0155, -0.0162, -0.0150, -0.0168, -0.0158, -0.0152, -0.0165, -0.0157,
              -0.0170, -0.0153, -0.0160, -0.0166, -0.0151, -0.0163, -0.0157, -0.0169,
              -0.0154, -0.0161, -0.0167, -0.0152, -0.0159, -0.0164, -0.0155, -0.0168,
              -0.0160, -0.0153, -0.0166, -0.0158, -0.0162, -0.0151, -0.0165, -0.0156]

# ---------------- 5-year forecasts ----------------
hist_5y_q95 = [0.0133, 0.0103, 0.0097, 0.0098, 0.0133, 0.0093, 0.0120, 0.0131,
               0.0113, 0.0135, 0.0117, 0.0093, 0.0133, 0.0113, 0.0094, 0.0132,
               0.0133, 0.0093, 0.0113, 0.0133, 0.0133, 0.0132, 0.0095, 0.0133,
               0.0092, 0.0093, 0.0133, 0.0093, 0.0130, 0.0091, 0.0133, 0.0092,
               0.0134, 0.0091, 0.0133, 0.0091, 0.0133, 0.0090, 0.0133, 0.0091,
               0.0134, 0.0091, 0.0130, 0.0091, 0.0133, 0.0091, 0.0128, 0.0089,
               0.0129, 0.0090, 0.0130, 0.0089, 0.0131, 0.0088, 0.0130, 0.0086,
               0.0130, 0.0088, 0.0131, 0.0088, 0.0130, 0.0087, 0.0131, 0.0088,
               0.0088, 0.0131, 0.0088, 0.0087, 0.0131,
               0.0132, 0.0125, 0.0112, 0.0119, 0.0134, 0.0095, 0.0133, 0.0094,
               0.0133, 0.0093, 0.0134, 0.0092, 0.0091, 0.0133, 0.0092, 0.0133,
               0.0091, 0.0133, 0.0090, 0.0134, 0.0091, 0.0132, 0.0090, 0.0129,
               0.0089, 0.0130, 0.0088, 0.0131, 0.0087, 0.0130, 0.0086, 0.0131]
hist_5y_q50 = [0.0038, 0.0035, 0.0037, 0.0035, 0.0037, 0.0036, 0.0038, 0.0034,
               0.0036, 0.0038, 0.0035, 0.0037, 0.0034, 0.0038, 0.0036, 0.0035,
               0.0037, 0.0034, 0.0036, 0.0034, 0.0035, 0.0037, 0.0033, 0.0036,
               0.0034, 0.0030, 0.0040, 0.0034, 0.0038, 0.0036, 0.0035, 0.0030,
               0.0020, 0.0036, 0.0020, 0.0034, 0.0021, 0.0038, 0.0035, 0.0030,
               0.0021, 0.0036, 0.0023, 0.0031, 0.0021, 0.0034, 0.0027, 0.0032,
               0.0030, 0.0024, 0.0034, 0.0029, 0.0031, 0.0026, 0.0033, 0.0028,
               0.0030, 0.0034, 0.0026, 0.0031, 0.0024, 0.0032, 0.0029, 0.0034,
               0.0027, 0.0030, 0.0032, 0.0028, 0.0034,
               0.0036, 0.0038, 0.0035, 0.0037, 0.0036, 0.0038, 0.0035, 0.0037,
               0.0036, 0.0034, 0.0039, 0.0036, 0.0040, 0.0020, 0.0021, 0.0036,
               0.0033, 0.0024, 0.0036, 0.0022, 0.0030, 0.0021, 0.0034, 0.0031,
               0.0035, 0.0029, 0.0033, 0.0027, 0.0032, 0.0030, 0.0025, 0.0031]
hist_5y_q05 = [-0.0040, -0.0039, -0.0041, -0.0040, -0.0042, -0.0039, -0.0041, -0.0043,
               -0.0040, -0.0042, -0.0039, -0.0041, -0.0043, -0.0040, -0.0042, -0.0044,
               -0.0041, -0.0043, -0.0040, -0.0038, -0.0042, -0.0040, -0.0041, -0.0039,
               -0.0042, -0.0041, -0.0039, -0.0037, -0.0040, -0.0042, -0.0038, -0.0041,
               -0.0039, -0.0043, -0.0040, -0.0038, -0.0041, -0.0039, -0.0036, -0.0040,
               -0.0042, -0.0038, -0.0044, -0.0041, -0.0039, -0.0043, -0.0040, -0.0044,
               -0.0042, -0.0044, -0.0041, -0.0045, -0.0043, -0.0041, -0.0044, -0.0042,
               -0.0045, -0.0043, -0.0044, -0.0042, -0.0044, -0.0041, -0.0043, -0.0044,
               -0.0042, -0.0044, -0.0043, -0.0045, -0.0044,
               -0.0041, -0.0039, -0.0042, -0.0040, -0.0043, -0.0041, -0.0039, -0.0042,
               -0.0040, -0.0041, -0.0038, -0.0040, -0.0037, -0.0041, -0.0039, -0.0038,
               -0.0040, -0.0042, -0.0039, -0.0043, -0.0041, -0.0044, -0.0042, -0.0043,
               -0.0044, -0.0042, -0.0045, -0.0043, -0.0044, -0.0042, -0.0045, -0.0043]

qr_5y_q95 = [0.0135, 0.0102, 0.0103, 0.0095, 0.0133, 0.0100, 0.0112, 0.0118,
             0.0133, 0.0108, 0.0135, 0.0098, 0.0133, 0.0095, 0.0133, 0.0096,
             0.0134, 0.0093, 0.0133, 0.0133, 0.0092, 0.0134, 0.0093, 0.0133,
             0.0093, 0.0093, 0.0133, 0.0094, 0.0133, 0.0093, 0.0134, 0.0094,
             0.0133, 0.0078, 0.0080, 0.0133, 0.0078, 0.0093, 0.0133, 0.0103,
             0.0134, 0.0100, 0.0105, 0.0133, 0.0095, 0.0131, 0.0100, 0.0096,
             0.0128, 0.0098, 0.0130, 0.0092, 0.0131, 0.0095, 0.0130, 0.0093,
             0.0130, 0.0095, 0.0131, 0.0093, 0.0130, 0.0090, 0.0131, 0.0087,
             0.0089, 0.0131, 0.0087, 0.0086, 0.0131,
             0.0133, 0.0118, 0.0122, 0.0105, 0.0134, 0.0099, 0.0133, 0.0094,
             0.0134, 0.0093, 0.0133, 0.0094, 0.0133, 0.0080, 0.0133, 0.0094,
             0.0134, 0.0100, 0.0133, 0.0104, 0.0131, 0.0097, 0.0130, 0.0098,
             0.0129, 0.0092, 0.0130, 0.0094, 0.0131, 0.0093, 0.0130, 0.0092]
qr_5y_q50 = [0.0040, 0.0038, 0.0036, 0.0030, 0.0022, 0.0040, 0.0032, 0.0018,
             0.0036, 0.0025, 0.0034, 0.0015, 0.0032, 0.0038, 0.0036, 0.0040,
             0.0032, 0.0035, 0.0028, 0.0030, 0.0026, 0.0034, 0.0020, 0.0030,
             0.0025, 0.0035, 0.0038, 0.0042, 0.0036, 0.0030, 0.0040, 0.0034,
             0.0025, 0.0009, 0.0035, 0.0012, 0.0045, 0.0048, 0.0028, 0.0040,
             0.0022, 0.0030, 0.0045, 0.0025, 0.0028, 0.0020, 0.0040, 0.0025,
             0.0021, 0.0035, 0.0024, 0.0028, 0.0040, 0.0022, 0.0032, 0.0042,
             0.0023, 0.0030, 0.0022, 0.0034, 0.0025, 0.0033, 0.0023, 0.0030,
             0.0024, 0.0031, 0.0028, 0.0026, 0.0031,
             0.0035, 0.0028, 0.0038, 0.0024, 0.0037, 0.0031, 0.0026, 0.0035,
             0.0030, 0.0025, 0.0041, 0.0038, 0.0033, 0.0015, 0.0028, 0.0043,
             0.0032, 0.0025, 0.0038, 0.0021, 0.0029, 0.0024, 0.0035, 0.0020,
             0.0038, 0.0023, 0.0030, 0.0042, 0.0025, 0.0031, 0.0022, 0.0029]
qr_5y_q05 = [-0.0040, -0.0038, -0.0042, -0.0040, -0.0043, -0.0039, -0.0041, -0.0044,
             -0.0040, -0.0043, -0.0038, -0.0041, -0.0044, -0.0039, -0.0042, -0.0045,
             -0.0040, -0.0043, -0.0039, -0.0036, -0.0042, -0.0040, -0.0044, -0.0038,
             -0.0042, -0.0040, -0.0037, -0.0045, -0.0036, -0.0042, -0.0039, -0.0045,
             -0.0037, -0.0043, -0.0034, -0.0041, -0.0045, -0.0035, -0.0037, -0.0044,
             -0.0036, -0.0040, -0.0045, -0.0038, -0.0042, -0.0036, -0.0044, -0.0040,
             -0.0038, -0.0045, -0.0041, -0.0037, -0.0043, -0.0039, -0.0042, -0.0036,
             -0.0040, -0.0044, -0.0038, -0.0042, -0.0037, -0.0043, -0.0040, -0.0045,
             -0.0041, -0.0038, -0.0043, -0.0040, -0.0044,
             -0.0042, -0.0039, -0.0044, -0.0040, -0.0043, -0.0038, -0.0041, -0.0044,
             -0.0039, -0.0042, -0.0036, -0.0044, -0.0038, -0.0042, -0.0036, -0.0044,
             -0.0035, -0.0041, -0.0045, -0.0037, -0.0043, -0.0039, -0.0045, -0.0040,
             -0.0037, -0.0043, -0.0039, -0.0045, -0.0041, -0.0038, -0.0044, -0.0040]

qrf_5y_q95 = [0.0144, 0.0103, 0.0095, 0.0113, 0.0157, 0.0138, 0.0095, 0.0128,
              0.0153, 0.0115, 0.0147, 0.0082, 0.0158, 0.0060, 0.0135, 0.0118,
              0.0063, 0.0155, 0.0120, 0.0055, 0.0128, 0.0158, 0.0100, 0.0145,
              0.0155, 0.0125, 0.0100, 0.0145, 0.0100, 0.0152, 0.0135, 0.0098,
              0.0125, 0.0150, 0.0095, 0.0085, 0.0118, 0.0148, 0.0077, 0.0148,
              0.0068, 0.0145, 0.0058, 0.0140, 0.0062, 0.0095, 0.0148, 0.0055,
              0.0145, 0.0068, 0.0150, 0.0065, 0.0150, 0.0060, 0.0148, 0.0052,
              0.0138, 0.0058, 0.0135, 0.0050, 0.0138, 0.0062, 0.0128, 0.0053,
              0.0075, 0.0076, 0.0065, 0.0078, 0.0130,
              0.0155, 0.0130, 0.0152, 0.0123, 0.0140, 0.0113, 0.0132, 0.0122,
              0.0150, 0.0118, 0.0138, 0.0095, 0.0148, 0.0128, 0.0100, 0.0135,
              0.0068, 0.0148, 0.0072, 0.0150, 0.0063, 0.0145, 0.0095, 0.0148,
              0.0060, 0.0153, 0.0068, 0.0140, 0.0055, 0.0136, 0.0062, 0.0133]
qrf_5y_q50 = [-0.0008, -0.0012, -0.0012, -0.0006, -0.0012, 0.0003, -0.0005, 0.0008,
              -0.0010, 0.0000, -0.0003, -0.0012, 0.0003, -0.0008, -0.0002, 0.0000,
              -0.0009, 0.0010, -0.0003, 0.0006, -0.0008, 0.0068, 0.0018, 0.0005,
              -0.0008, 0.0058, -0.0005, 0.0038, 0.0010, 0.0062, 0.0035, -0.0015,
              0.0030, 0.0040, -0.0010, 0.0035, 0.0025, 0.0010, 0.0060, 0.0035,
              0.0072, 0.0060, 0.0025, 0.0050, 0.0065, 0.0010, 0.0070, 0.0050,
              0.0075, 0.0062, 0.0017, 0.0068, 0.0045, 0.0065, 0.0020, 0.0060,
              0.0040, 0.0018, 0.0075, 0.0018, 0.0018, 0.0075, 0.0060, 0.0020,
              0.0018, 0.0078, 0.0030, 0.0025, 0.0077,
              -0.0005, -0.0010, 0.0002, -0.0013, -0.0004, 0.0001, -0.0010, -0.0006,
              0.0005, -0.0004, 0.0025, 0.0045, -0.0005, 0.0033, 0.0010, 0.0028,
              0.0065, 0.0070, 0.0062, 0.0055, 0.0073, 0.0040, 0.0062, 0.0068,
              0.0055, 0.0070, 0.0062, 0.0058, 0.0076, 0.0018, 0.0072, 0.0019]
qrf_5y_q05 = [-0.0053, -0.0052, -0.0050, -0.0055, -0.0048, -0.0057, -0.0050, -0.0047,
              -0.0054, -0.0049, -0.0052, -0.0056, -0.0050, -0.0045, -0.0053, -0.0058,
              -0.0049, -0.0055, -0.0051, -0.0048, -0.0053, -0.0050, -0.0057, -0.0053,
              -0.0055, -0.0058, -0.0043, -0.0053, -0.0047, -0.0060, -0.0050, -0.0042,
              -0.0055, -0.0068, -0.0040, -0.0055, -0.0038, -0.0063, -0.0025, -0.0048,
              -0.0015, -0.0005, -0.0040, -0.0060, -0.0030, -0.0052, -0.0002, -0.0068,
              -0.0040, -0.0018, -0.0058, -0.0022, -0.0035, -0.0025, -0.0062, -0.0020,
              -0.0045, -0.0030, 0.0000, -0.0055, -0.0035, -0.0010, -0.0060, -0.0042,
              -0.0005, -0.0052, -0.0038, -0.0040, -0.0012,
              -0.0051, -0.0055, -0.0049, -0.0053, -0.0047, -0.0055, -0.0050, -0.0052,
              -0.0050, -0.0052, -0.0045, -0.0062, -0.0048, -0.0040, -0.0058, -0.0044,
              -0.0032, -0.0020, -0.0048, -0.0018, -0.0055, -0.0008, -0.0028, -0.0042,
              -0.0020, -0.0024, -0.0018, -0.0022, -0.0035, -0.0012, -0.0048, -0.0005]

qgb_5y_q95 = [0.0122, 0.0095, 0.0088, 0.0083, 0.0158, 0.0127, 0.0088, 0.0152,
              0.0125, 0.0095, 0.0078, 0.0160, 0.0120, 0.0075, 0.0125, 0.0112,
              0.0098, 0.0157, 0.0117, 0.0087, 0.0155, 0.0115, 0.0120, 0.0150,
              0.0075, 0.0142, 0.0075, 0.0126, 0.0092, 0.0148, 0.0075, 0.0118,
              0.0093, 0.0135, 0.0092, 0.0122, 0.0110, 0.0130, 0.0073, 0.0125,
              0.0072, 0.0127, 0.0068, 0.0095, 0.0073, 0.0128, 0.0071, 0.0115,
              0.0072, 0.0122, 0.0073, 0.0112, 0.0120, 0.0074, 0.0105, 0.0072,
              0.0102, 0.0075, 0.0128, 0.0074, 0.0125, 0.0073, 0.0130, 0.0075,
              0.0073, 0.0074, 0.0134, 0.0075, 0.0110,
              0.0127, 0.0120, 0.0158, 0.0122, 0.0093, 0.0125, 0.0107, 0.0118,
              0.0115, 0.0110, 0.0140, 0.0126, 0.0093, 0.0073, 0.0130, 0.0090,
              0.0130, 0.0070, 0.0126, 0.0072, 0.0105, 0.0120, 0.0073, 0.0125,
              0.0118, 0.0072, 0.0115, 0.0105, 0.0074, 0.0128, 0.0073, 0.0075]
qgb_5y_q50 = [-0.0012, -0.0013, -0.0015, -0.0010, -0.0005, 0.0003, -0.0012, 0.0000,
              -0.0008, 0.0005, -0.0015, 0.0003, -0.0005, 0.0010, -0.0008, -0.0003,
              -0.0012, 0.0046, -0.0005, 0.0008, 0.0000, -0.0010, 0.0005, 0.0012,
              -0.0015, 0.0015, -0.0012, 0.0045, 0.0025, 0.0010, -0.0008, 0.0020,
              0.0065, 0.0025, 0.0060, 0.0012, 0.0072, 0.0032, 0.0008, 0.0065,
              0.0078, 0.0050, 0.0020, 0.0068, 0.0040, 0.0015, 0.0063, 0.0040,
              0.0055, 0.0028, 0.0090, 0.0048, 0.0008, 0.0060, 0.0035, 0.0093,
              0.0005, 0.0060, 0.0020, 0.0005, 0.0095, 0.0012, 0.0025, 0.0008,
              0.0015, 0.0025, 0.0027, 0.0028, 0.0065,
              -0.0010, -0.0002, -0.0012, 0.0004, -0.0006, 0.0002, -0.0010, 0.0008,
              -0.0004, 0.0010, 0.0028, 0.0005, 0.0018, -0.0008, 0.0040, 0.0058,
              0.0030, 0.0072, 0.0055, 0.0045, 0.0060, 0.0050, 0.0028, 0.0065,
              0.0055, 0.0042, 0.0070, 0.0015, 0.0052, 0.0012, 0.0020, 0.0018]
qgb_5y_q05 = [-0.0025, -0.0032, -0.0028, -0.0038, -0.0022, -0.0035, -0.0030, -0.0040,
              -0.0026, -0.0033, -0.0020, -0.0038, -0.0029, -0.0024, -0.0035, -0.0030,
              -0.0027, -0.0035, -0.0022, -0.0031, -0.0025, -0.0029, -0.0033, -0.0020,
              -0.0024, -0.0038, -0.0005, -0.0030, -0.0022, -0.0035, -0.0028, -0.0040,
              -0.0024, -0.0012, -0.0040, -0.0018, -0.0035, -0.0005, -0.0038, 0.0010,
              -0.0028, 0.0012, -0.0020, -0.0040, -0.0008, -0.0030, -0.0043, 0.0015,
              -0.0015, -0.0035, -0.0005, -0.0025, -0.0038, 0.0005, -0.0030, -0.0012,
              -0.0025, -0.0035, 0.0002, -0.0028, -0.0015, -0.0038, -0.0005, -0.0030,
              -0.0010, -0.0035, -0.0025, -0.0020, -0.0010,
              -0.0032, -0.0025, -0.0036, -0.0028, -0.0022, -0.0034, -0.0027, -0.0031,
              -0.0024, -0.0030, -0.0020, -0.0034, -0.0015, -0.0028, -0.0010, -0.0032,
              -0.0018, 0.0002, -0.0025, -0.0008, -0.0030, -0.0015, -0.0022, -0.0005,
              -0.0028, -0.0012, -0.0032, -0.0020, -0.0008, -0.0025, -0.0035, -0.0018]

# p statistics printed in each panel
p_values = ["-0.001", "-0.23", "-0.58",
            "0.16", "0.044", "-0.286",
            "0.006", "0.051", "0.656",
            "-0.014", "0.071", "0.675"]
captions = ["Historical model 1-month.", "Historical model 1-year.", "Historical model 5-year.",
            "QR 1-month.", "QR 1-year.", "QR 5-year.",
            "QRF 1-month.", "QRF 1-year.", "QRF 5-year.",
            "QGB 1-month.", "QGB 1-year.", "QGB 5-year"]
letters = "abcdefghijkl"

panels = [
    (obs_1m, hist_1m_q95, hist_1m_q50, hist_1m_q05),
    (obs_1y, hist_1y_q95, hist_1y_q50, hist_1y_q05),
    (obs_5y, hist_5y_q95, hist_5y_q50, hist_5y_q05),
    (obs_1m, qr_1m_q95, qr_1m_q50, qr_1m_q05),
    (obs_1y, qr_1y_q95, qr_1y_q50, qr_1y_q05),
    (obs_5y, qr_5y_q95, qr_5y_q50, qr_5y_q05),
    (obs_1m, qrf_1m_q95, qrf_1m_q50, qrf_1m_q05),
    (obs_1y, qrf_1y_q95, qrf_1y_q50, qrf_1y_q05),
    (obs_5y, qrf_5y_q95, qrf_5y_q50, qrf_5y_q05),
    (obs_1m, qgb_1m_q95, qgb_1m_q50, qgb_1m_q05),
    (obs_1y, qgb_1y_q95, qgb_1y_q50, qgb_1y_q05),
    (obs_5y, qgb_5y_q95, qgb_5y_q50, qgb_5y_q05),
]

# axis limits and tick step per column (horizon)
limits = [(-0.07, 0.07), (-0.04, 0.04), (-0.008, 0.018)]
steps = [0.02, 0.01, 0.005]

ORANGE = "#EFA040"
NAVY = "#1D3A5E"
LIGHT = "#92BCDB"
TXT = "#333333"

W, H = 1169, 1190
fig = plt.figure(figsize=(W / 100, H / 100), dpi=100)

lefts = [59, 451, 857]
widths = [312, 313, 311]
tops = [7, 305, 603, 902]
height = 203
cap_x = [191, 588, 985]
cap_y = [275, 575, 873, 1170]

cap_texts = []
for i, (obs, q95, q50, q05) in enumerate(panels):
    r, c = divmod(i, 3)
    ax = fig.add_axes([lefts[c] / W, 1 - (tops[r] + height) / H, widths[c] / W, height / H])
    lo, hi = limits[c]
    ax.scatter(obs, q95, s=10, color=ORANGE, alpha=0.9, lw=0, label="q=0.95")
    ax.scatter(obs, q50, s=10, color=NAVY, alpha=0.9, lw=0, label="q=0.5")
    ax.scatter(obs, q05, s=10, color=LIGHT, alpha=0.9, lw=0, label="q=0.05")
    ax.plot([lo, hi], [lo, hi], "k--", lw=1.1, zorder=3)
    ax.set_xlim(lo, hi)
    ax.set_ylim(lo, hi)
    ax.xaxis.set_major_locator(MultipleLocator(steps[c]))
    ax.yaxis.set_major_locator(MultipleLocator(steps[c]))
    ax.tick_params(labelsize=6.6, length=3, width=0.7, colors="#555555", labelcolor=TXT, pad=2)
    for sp in ax.spines.values():
        sp.set_color("#666666")
        sp.set_linewidth(0.8)
    ax.set_xlabel("Observed ERP", fontsize=6.9, color=TXT, labelpad=1.5)
    ax.set_ylabel("Forecasted ERP", fontsize=6.9, color=TXT, labelpad=2)
    ax.legend(loc="lower left", fontsize=7, handletextpad=0.7, borderpad=0.45,
              labelspacing=0.4, handlelength=1.9, borderaxespad=0.35)
    at = AnchoredText("p = " + p_values[i], loc="lower right", prop=dict(size=8.3),
                      frameon=True, pad=0.5, borderpad=0.3)
    at.patch.set_boxstyle("square,pad=0")
    at.patch.set_edgecolor("black")
    at.patch.set_linewidth(0.9)
    ax.add_artist(at)

    # caption: bold letter then regular text, centred as a whole
    y = 1 - cap_y[r] / H
    t1 = fig.text(0, y, "(" + letters[i] + ")", fontfamily="cmb10", fontsize=19.5,
                  ha="left", va="center")
    t2 = fig.text(0, y, captions[i], fontfamily="cmr10", fontsize=19.5,
                  ha="left", va="center")
    cap_texts.append((t1, t2, cap_x[c]))

renderer = fig.canvas.get_renderer()
gap = 8
for t1, t2, xc in cap_texts:
    w1 = t1.get_window_extent(renderer).width
    w2 = t2.get_window_extent(renderer).width
    x0 = xc - (w1 + gap + w2) / 2
    t1.set_x(x0 / W)
    t2.set_x((x0 + w1 + gap) / W)

fig.savefig("out.png", dpi=100)
